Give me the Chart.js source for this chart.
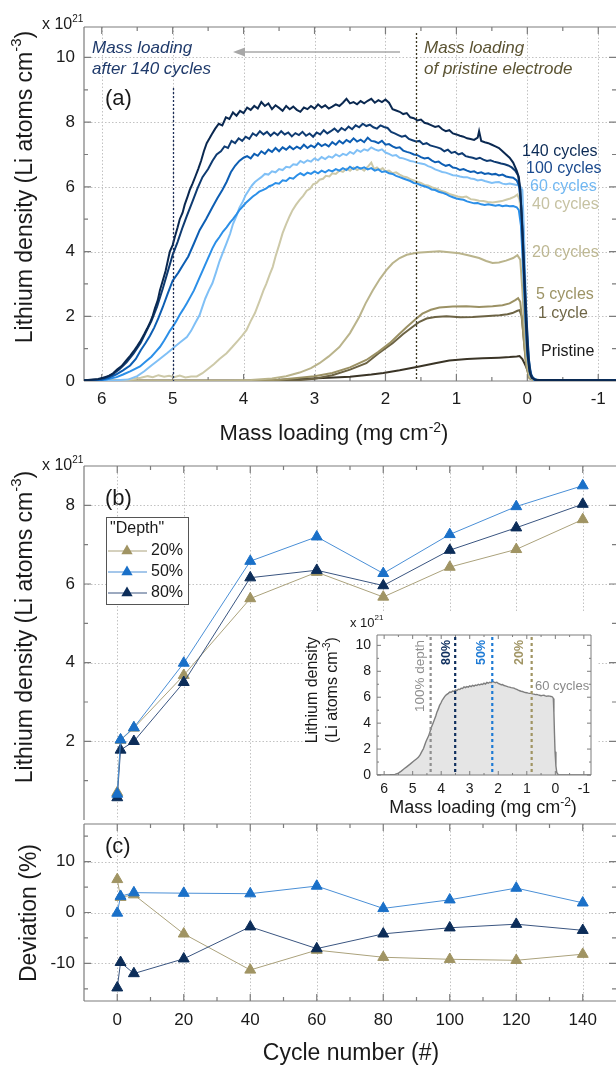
<!DOCTYPE html>
<html><head><meta charset="utf-8">
<script src="https://cdn.jsdelivr.net/npm/chart.js@4.4.1/dist/chart.umd.min.js"></script>
<style>
html,body{margin:0;padding:0;background:#fff;overflow:hidden;width:616px;height:1065px;position:relative}
canvas{position:absolute;left:0;top:0}
</style></head><body>
<canvas id="ca" width="616" height="1065"></canvas>
<canvas id="cb" width="616" height="1065"></canvas>
<canvas id="cc" width="616" height="1065"></canvas>
<canvas id="ci" width="616" height="1065"></canvas>
<script>
// ---------------- DATA ----------------
// Panel (a): lithium density profiles [mass loading (mg cm-2), density (x1e21 Li atoms cm-3)]
const c140 = [[6.25,0.02],[6.15,0.04],[6.05,0.06],[5.98,0.1],[5.9,0.16],[5.84,0.24],[5.78,0.36],[5.72,0.46],[5.66,0.62],[5.6,0.78],[5.55,0.92],[5.5,1.08],[5.45,1.25],[5.4,1.45],[5.36,1.62],[5.32,1.8],[5.28,2.02],[5.25,2.25],[5.21,2.5],[5.18,2.8],[5.14,3.1],[5.1,3.4],[5.07,3.7],[5.04,4.0],[5.0,4.2],[4.97,4.45],[4.93,4.75],[4.9,5.0],[4.86,5.2],[4.83,5.45],[4.79,5.7],[4.76,5.9],[4.72,6.1],[4.68,6.32],[4.64,6.55],[4.6,6.8],[4.56,7.1],[4.52,7.35],[4.48,7.5],[4.45,7.62],[4.4,7.8],[4.35,7.95],[4.3,7.9],[4.25,8.15],[4.2,8.1],[4.15,8.3],[4.1,8.2],[4.05,8.35],[4.0,8.28],[3.95,8.45],[3.9,8.38],[3.85,8.5],[3.8,8.42],[3.75,8.62],[3.7,8.5],[3.65,8.58],[3.6,8.4],[3.55,8.52],[3.5,8.44],[3.45,8.35],[3.4,8.5],[3.35,8.4],[3.3,8.48],[3.25,8.38],[3.2,8.32],[3.15,8.45],[3.1,8.4],[3.05,8.5],[3.0,8.42],[2.95,8.55],[2.9,8.45],[2.85,8.52],[2.8,8.42],[2.75,8.48],[2.7,8.55],[2.65,8.5],[2.6,8.6],[2.55,8.72],[2.5,8.58],[2.45,8.62],[2.4,8.55],[2.35,8.65],[2.3,8.58],[2.25,8.66],[2.2,8.72],[2.15,8.6],[2.1,8.68],[2.05,8.62],[2.0,8.7],[1.95,8.6],[1.9,8.4],[1.85,8.36],[1.8,8.32],[1.75,8.25],[1.7,8.28],[1.65,8.15],[1.6,8.12],[1.55,8.05],[1.5,8.08],[1.45,7.98],[1.4,7.95],[1.35,7.9],[1.3,7.85],[1.25,7.88],[1.2,7.78],[1.15,7.72],[1.1,7.75],[1.05,7.65],[1.0,7.62],[0.95,7.58],[0.9,7.55],[0.85,7.5],[0.8,7.48],[0.75,7.45],[0.7,7.52],[0.68,7.72],[0.65,7.42],[0.6,7.38],[0.55,7.35],[0.5,7.3],[0.45,7.25],[0.4,7.2],[0.35,7.1],[0.3,7.0],[0.25,6.9],[0.2,6.75],[0.15,6.5],[0.12,6.3],[0.1,5.9],[0.08,5.1],[0.06,4.0],[0.04,2.9],[0.02,1.8],[0.0,0.9],[-0.03,0.3],[-0.06,0.1],[-0.12,0.03],[-1.25,0.02]];
const c120 = [[6.25,0.02],[6.05,0.05],[5.95,0.1],[5.85,0.2],[5.75,0.36],[5.65,0.58],[5.55,0.85],[5.45,1.18],[5.38,1.5],[5.3,1.85],[5.22,2.3],[5.14,2.85],[5.06,3.45],[5.0,3.9],[4.93,4.3],[4.86,4.75],[4.8,5.1],[4.72,5.55],[4.65,5.95],[4.58,6.3],[4.5,6.55],[4.44,6.8],[4.38,7.0],[4.32,7.1],[4.27,7.25],[4.22,7.2],[4.17,7.42],[4.12,7.35],[4.07,7.5],[4.02,7.42],[3.97,7.55],[3.92,7.48],[3.87,7.65],[3.82,7.58],[3.77,7.72],[3.72,7.62],[3.67,7.7],[3.62,7.58],[3.57,7.68],[3.52,7.6],[3.47,7.72],[3.42,7.62],[3.37,7.68],[3.32,7.56],[3.27,7.66],[3.22,7.6],[3.17,7.7],[3.12,7.58],[3.07,7.65],[3.02,7.55],[2.97,7.68],[2.92,7.62],[2.87,7.75],[2.82,7.65],[2.77,7.72],[2.72,7.8],[2.67,7.7],[2.62,7.82],[2.57,7.75],[2.52,7.86],[2.47,7.78],[2.42,7.9],[2.37,7.84],[2.32,7.95],[2.27,7.88],[2.22,7.92],[2.17,7.84],[2.12,7.8],[2.07,7.9],[2.02,7.85],[1.97,7.82],[1.92,7.7],[1.87,7.65],[1.82,7.6],[1.77,7.55],[1.72,7.58],[1.67,7.48],[1.62,7.44],[1.57,7.4],[1.52,7.42],[1.47,7.32],[1.42,7.35],[1.37,7.28],[1.32,7.25],[1.27,7.22],[1.22,7.18],[1.17,7.1],[1.12,7.15],[1.07,7.05],[1.02,7.08],[0.97,7.0],[0.92,7.04],[0.87,6.95],[0.82,6.92],[0.77,6.9],[0.72,6.86],[0.67,6.9],[0.62,6.84],[0.57,6.8],[0.52,6.82],[0.47,6.78],[0.42,6.75],[0.37,6.72],[0.32,6.7],[0.27,6.66],[0.22,6.6],[0.17,6.5],[0.13,6.35],[0.1,5.9],[0.07,4.8],[0.04,3.3],[0.01,1.9],[-0.02,0.7],[-0.05,0.2],[-0.1,0.04],[-1.25,0.02]];
const c100 = [[6.25,0.01],[6.0,0.04],[5.9,0.1],[5.8,0.2],[5.7,0.33],[5.6,0.48],[5.52,0.68],[5.45,0.95],[5.38,1.18],[5.32,1.4],[5.26,1.65],[5.2,1.95],[5.14,2.28],[5.07,2.7],[5.0,3.1],[4.92,3.35],[4.85,3.6],[4.78,3.85],[4.7,4.25],[4.62,4.66],[4.53,5.0],[4.44,5.37],[4.37,5.65],[4.3,5.9],[4.24,6.15],[4.18,6.45],[4.12,6.65],[4.06,6.8],[4.0,6.9],[3.95,6.95],[3.9,6.88],[3.85,7.02],[3.8,6.96],[3.75,7.1],[3.7,7.02],[3.65,7.15],[3.6,7.08],[3.55,7.2],[3.5,7.1],[3.45,7.22],[3.4,7.15],[3.35,7.25],[3.3,7.16],[3.25,7.24],[3.2,7.18],[3.15,7.3],[3.1,7.2],[3.05,7.28],[3.0,7.22],[2.95,7.35],[2.9,7.26],[2.85,7.32],[2.8,7.25],[2.75,7.38],[2.7,7.3],[2.65,7.42],[2.6,7.34],[2.55,7.45],[2.5,7.38],[2.45,7.5],[2.4,7.4],[2.35,7.46],[2.3,7.38],[2.25,7.52],[2.2,7.42],[2.15,7.4],[2.1,7.35],[2.05,7.42],[2.0,7.3],[1.95,7.32],[1.9,7.25],[1.85,7.2],[1.8,7.22],[1.75,7.12],[1.7,7.08],[1.65,7.05],[1.6,7.0],[1.55,6.98],[1.5,6.92],[1.45,6.88],[1.4,6.9],[1.35,6.82],[1.3,6.76],[1.25,6.78],[1.2,6.7],[1.15,6.65],[1.1,6.68],[1.05,6.6],[1.0,6.58],[0.95,6.52],[0.9,6.55],[0.85,6.5],[0.8,6.46],[0.75,6.48],[0.7,6.42],[0.65,6.45],[0.6,6.4],[0.55,6.42],[0.5,6.38],[0.45,6.4],[0.4,6.35],[0.35,6.38],[0.3,6.32],[0.25,6.3],[0.2,6.28],[0.15,6.2],[0.12,6.05],[0.09,5.5],[0.06,4.2],[0.03,2.6],[0.0,1.2],[-0.03,0.4],[-0.07,0.1],[-0.15,0.02],[-1.25,0.02]];
const c80 = [[6.25,0.0],[5.95,0.04],[5.79,0.12],[5.7,0.2],[5.6,0.3],[5.46,0.45],[5.38,0.6],[5.3,0.75],[5.24,0.9],[5.18,1.05],[5.12,1.25],[5.08,1.4],[5.04,1.55],[5.0,1.67],[4.95,1.85],[4.9,2.05],[4.85,2.22],[4.8,2.4],[4.75,2.6],[4.7,2.8],[4.66,3.0],[4.62,3.2],[4.57,3.45],[4.53,3.65],[4.48,3.9],[4.44,4.1],[4.39,4.3],[4.34,4.45],[4.29,4.62],[4.24,4.75],[4.19,4.9],[4.15,5.0],[4.1,5.15],[4.06,5.28],[4.01,5.4],[3.97,5.5],[3.92,5.6],[3.87,5.7],[3.82,5.78],[3.78,5.85],[3.73,5.9],[3.68,5.95],[3.64,6.02],[3.6,6.05],[3.55,6.12],[3.5,6.1],[3.45,6.2],[3.4,6.18],[3.35,6.28],[3.3,6.25],[3.25,6.35],[3.2,6.42],[3.15,6.36],[3.1,6.44],[3.05,6.4],[3.0,6.48],[2.95,6.42],[2.9,6.5],[2.85,6.45],[2.8,6.52],[2.75,6.48],[2.7,6.55],[2.65,6.5],[2.6,6.58],[2.55,6.52],[2.5,6.62],[2.45,6.55],[2.4,6.62],[2.35,6.56],[2.3,6.6],[2.25,6.54],[2.2,6.58],[2.15,6.5],[2.1,6.54],[2.05,6.46],[2.0,6.48],[1.95,6.42],[1.9,6.4],[1.85,6.34],[1.8,6.3],[1.75,6.26],[1.7,6.22],[1.65,6.18],[1.6,6.12],[1.55,6.1],[1.5,6.05],[1.45,6.02],[1.4,5.98],[1.35,5.92],[1.3,5.9],[1.25,5.85],[1.2,5.82],[1.15,5.78],[1.1,5.72],[1.05,5.68],[1.0,5.64],[0.95,5.62],[0.9,5.6],[0.85,5.55],[0.8,5.52],[0.75,5.49],[0.7,5.5],[0.65,5.46],[0.6,5.44],[0.55,5.46],[0.5,5.44],[0.45,5.42],[0.4,5.44],[0.35,5.4],[0.3,5.42],[0.25,5.4],[0.2,5.41],[0.15,5.37],[0.12,5.28],[0.09,4.8],[0.06,3.5],[0.03,2.0],[0.0,0.8],[-0.04,0.2],[-0.1,0.03],[-1.25,0.01]];
const c60 = [[6.25,0.0],[5.8,0.02],[5.62,0.05],[5.5,0.15],[5.4,0.3],[5.3,0.48],[5.2,0.65],[5.08,0.86],[4.95,1.1],[4.88,1.22],[4.8,1.36],[4.74,1.55],[4.68,1.8],[4.62,2.04],[4.58,2.3],[4.54,2.55],[4.49,2.8],[4.44,3.02],[4.39,3.35],[4.34,3.7],[4.29,3.98],[4.24,4.26],[4.19,4.55],[4.15,4.85],[4.1,5.1],[4.06,5.35],[4.01,5.55],[3.97,5.75],[3.92,5.92],[3.88,6.05],[3.84,6.15],[3.8,6.22],[3.75,6.3],[3.7,6.4],[3.65,6.38],[3.6,6.48],[3.55,6.45],[3.5,6.55],[3.45,6.52],[3.4,6.62],[3.35,6.6],[3.3,6.7],[3.25,6.68],[3.2,6.8],[3.15,6.74],[3.1,6.82],[3.05,6.78],[3.0,6.88],[2.95,6.82],[2.9,6.92],[2.85,6.86],[2.8,6.94],[2.75,6.9],[2.7,7.0],[2.65,6.94],[2.6,7.02],[2.55,6.98],[2.5,7.08],[2.45,7.02],[2.4,7.14],[2.35,7.08],[2.3,7.16],[2.25,7.12],[2.2,7.22],[2.15,7.16],[2.1,7.12],[2.05,7.16],[2.0,7.06],[1.95,7.02],[1.9,6.96],[1.85,6.98],[1.8,6.9],[1.75,6.88],[1.7,6.84],[1.65,6.8],[1.6,6.78],[1.55,6.74],[1.5,6.72],[1.45,6.7],[1.4,6.64],[1.35,6.6],[1.3,6.54],[1.25,6.5],[1.2,6.46],[1.15,6.44],[1.1,6.4],[1.05,6.36],[1.0,6.35],[0.95,6.32],[0.9,6.3],[0.85,6.3],[0.8,6.26],[0.75,6.24],[0.7,6.2],[0.65,6.22],[0.6,6.18],[0.55,6.15],[0.5,6.12],[0.45,6.14],[0.4,6.15],[0.35,6.1],[0.3,6.08],[0.25,6.1],[0.2,6.08],[0.15,6.06],[0.1,6.02],[0.07,5.9],[0.05,4.8],[0.03,3.2],[0.01,1.8],[-0.02,0.7],[-0.05,0.2],[-0.1,0.03],[-1.25,0.01]];
const c40 = [[6.25,0.0],[5.7,0.02],[5.55,0.06],[5.45,0.1],[5.35,0.15],[5.28,0.12],[5.2,0.18],[5.12,0.13],[5.05,0.16],[4.98,0.12],[4.9,0.17],[4.82,0.11],[4.74,0.14],[4.66,0.14],[4.58,0.24],[4.5,0.38],[4.42,0.52],[4.34,0.68],[4.24,0.86],[4.16,1.05],[4.08,1.25],[4.02,1.4],[3.96,1.57],[3.9,1.85],[3.84,2.1],[3.77,2.5],[3.72,2.8],[3.68,3.0],[3.63,3.3],[3.59,3.52],[3.55,3.85],[3.5,4.2],[3.45,4.57],[3.4,4.85],[3.35,5.1],[3.31,5.28],[3.26,5.45],[3.21,5.6],[3.16,5.72],[3.11,5.88],[3.06,5.95],[3.02,6.08],[2.97,6.12],[2.93,6.22],[2.88,6.25],[2.84,6.34],[2.79,6.32],[2.75,6.42],[2.7,6.4],[2.65,6.5],[2.6,6.46],[2.55,6.56],[2.5,6.5],[2.45,6.6],[2.4,6.52],[2.35,6.58],[2.3,6.5],[2.25,6.62],[2.2,6.75],[2.16,6.55],[2.12,6.6],[2.08,6.52],[2.04,6.58],[2.0,6.48],[1.95,6.5],[1.9,6.42],[1.85,6.45],[1.8,6.38],[1.75,6.32],[1.7,6.3],[1.65,6.24],[1.6,6.2],[1.55,6.15],[1.5,6.12],[1.45,6.06],[1.4,6.04],[1.34,5.98],[1.28,5.94],[1.22,5.88],[1.16,5.84],[1.1,5.78],[1.04,5.74],[0.98,5.7],[0.92,5.68],[0.86,5.7],[0.8,5.62],[0.74,5.6],[0.68,5.57],[0.62,5.56],[0.56,5.53],[0.49,5.52],[0.42,5.54],[0.36,5.56],[0.3,5.6],[0.24,5.64],[0.18,5.7],[0.14,5.76],[0.11,5.6],[0.08,4.8],[0.05,3.2],[0.02,1.6],[-0.01,0.6],[-0.05,0.12],[-0.1,0.02],[-1.25,0.01]];
const c20 = [[6.25,0.01],[4.2,0.01],[3.9,0.03],[3.6,0.08],[3.4,0.15],[3.21,0.26],[3.05,0.4],[2.93,0.55],[2.8,0.76],[2.65,1.05],[2.5,1.48],[2.37,1.98],[2.28,2.4],[2.18,2.8],[2.08,3.15],[1.99,3.42],[1.9,3.64],[1.8,3.8],[1.7,3.9],[1.56,3.96],[1.4,3.99],[1.24,4.01],[1.1,3.98],[0.96,3.95],[0.82,3.88],[0.68,3.8],[0.58,3.71],[0.49,3.65],[0.4,3.66],[0.3,3.72],[0.2,3.8],[0.14,3.89],[0.1,3.75],[0.07,2.8],[0.04,1.6],[0.01,0.6],[-0.03,0.12],[-0.1,0.02],[-1.25,0.01]];
const c5 = [[6.25,0.01],[3.8,0.01],[3.5,0.04],[3.21,0.1],[3.0,0.15],[2.75,0.25],[2.5,0.42],[2.27,0.65],[2.1,0.9],[1.94,1.17],[1.82,1.42],[1.7,1.67],[1.58,1.9],[1.48,2.08],[1.36,2.2],[1.24,2.27],[1.05,2.3],[0.86,2.31],[0.68,2.29],[0.49,2.31],[0.35,2.34],[0.25,2.4],[0.17,2.5],[0.13,2.56],[0.1,2.45],[0.07,1.8],[0.04,1.0],[0.01,0.4],[-0.03,0.08],[-0.1,0.02],[-1.25,0.01]];
const c1 = [[6.25,0.01],[3.6,0.01],[3.2,0.03],[3.0,0.07],[2.75,0.18],[2.5,0.35],[2.27,0.55],[2.1,0.85],[1.9,1.17],[1.75,1.45],[1.62,1.67],[1.52,1.83],[1.42,1.93],[1.3,1.98],[1.14,2.0],[0.95,1.97],[0.77,1.98],[0.6,2.0],[0.39,2.03],[0.28,2.06],[0.21,2.1],[0.14,2.17],[0.11,2.19],[0.08,2.0],[0.05,1.3],[0.02,0.6],[-0.02,0.12],[-0.1,0.02],[-1.25,0.01]];
const cPristine = [[6.25,0.01],[4.0,0.01],[3.6,0.02],[3.21,0.06],[2.8,0.1],[2.5,0.13],[2.2,0.2],[2.03,0.25],[1.8,0.33],[1.56,0.43],[1.3,0.55],[1.1,0.63],[0.85,0.68],[0.63,0.7],[0.4,0.72],[0.25,0.74],[0.15,0.76],[0.11,0.77],[0.07,0.68],[0.03,0.5],[-0.01,0.3],[-0.05,0.14],[-0.1,0.05],[-0.2,0.02],[-1.25,0.01]];

// Panel (b) and (c)
const cycles = [0,1,5,20,40,60,80,100,120,140];
const depthNames = ['20%','50%','80%'];
const dens20 = [0.70,2.03,2.34,3.68,5.63,6.30,5.67,6.43,6.88,7.64];
const dens50 = [0.66,2.04,2.35,3.99,6.58,7.20,6.27,7.26,7.97,8.50];
const dens80 = [0.57,1.78,2.00,3.50,6.16,6.35,5.96,6.86,7.43,8.03];
const dev20 = [6.5,3.0,3.5,-4.2,-11.3,-7.4,-8.8,-9.2,-9.4,-8.2];
const dev50 = [-0.1,3.2,3.9,3.8,3.7,5.2,0.8,2.5,4.8,1.9];
const dev80 = [-14.8,-9.8,-12.0,-9.1,-2.8,-7.1,-4.2,-3.0,-2.3,-3.5];

// Ticks
const massTicks = [6,5,4,3,2,1,0,-1];
const massMinor = [5.5,4.5,3.5,2.5,1.5,0.5,-0.5];
const densTicksA = [0,2,4,6,8,10];
const densMinorA = [1,3,5,7,9];
const densGridA = [2,4,6,8,10];
const cycleTicks = [0,20,40,60,80,100,120,140];
const cycleMinor = [10,30,50,70,90,110,130];
const densTicksB = [2,4,6,8];
const densMinorB = [1,3,5,7];
const devTicks = [-10,0,10];
const devMinor = [-15,-5,5,15];

// Annotation values
const loading140 = 5.0, loadingPristine = 1.57;
const depthLines = [4.37, 3.51, 2.21, 0.83];
const depthLabels = ['100% depth','80%','50%','20%'];

// ---------------- HELPERS ----------------
const FONT = '"Liberation Sans", Arial, Helvetica, sans-serif';
const W = 616, H = 1065;
const pad = a => ({left:a.l, top:a.t, right:W-a.r, bottom:H-a.b});
const xy = arr => arr.map(p => ({x:p[0], y:p[1]}));
const cxy = vals => cycles.map((c,i) => ({x:c, y:vals[i]}));

function rich(ctx, parts, x, y, o) {
  const size = o.size, st = (o.style||'') + ' ' + (o.weight||'');
  const fonts = parts.map(p => `${st} ${p[1] ? Math.round(size*0.64) : size}px ${FONT}`);
  ctx.save();
  let w = 0;
  const ws = parts.map((p,i) => { ctx.font = fonts[i]; const m = ctx.measureText(p[0]).width; w += m; return m; });
  ctx.translate(x, y); if (o.rot) ctx.rotate(o.rot);
  let cx = o.align === 'center' ? -w/2 : (o.align === 'right' ? -w : 0);
  ctx.fillStyle = o.color || '#1a1a1a'; ctx.textBaseline = o.baseline || 'alphabetic'; ctx.textAlign = 'left';
  parts.forEach((p,i) => { ctx.font = fonts[i]; ctx.fillText(p[0], cx, p[1] ? -size*0.38 : 0); cx += ws[i]; });
  ctx.restore();
}
function drawGrid(chart, xv, yv) {
  const {ctx, chartArea:a} = chart, xs = chart.scales.x, ys = chart.scales.y;
  ctx.save(); ctx.strokeStyle = '#c2c2c2'; ctx.lineWidth = 1; ctx.setLineDash([1.5,2]);
  ctx.beginPath();
  xv.forEach(v => { const p = Math.round(xs.getPixelForValue(v)) + 0.5; ctx.moveTo(p, a.top); ctx.lineTo(p, a.bottom); });
  yv.forEach(v => { const p = Math.round(ys.getPixelForValue(v)) + 0.5; ctx.moveTo(a.left, p); ctx.lineTo(a.right, p); });
  ctx.stroke(); ctx.restore();
}
function drawFrame(chart, o) {
  const {ctx, chartArea:a} = chart, xs = chart.scales.x, ys = chart.scales.y;
  ctx.save(); ctx.strokeStyle = '#7c7c7c'; ctx.lineWidth = o.lw || 1.2; ctx.setLineDash([]);
  ctx.beginPath();
  const hx = (v,len) => { const p = xs.getPixelForValue(v);
    if (o.top) { ctx.moveTo(p, a.top); ctx.lineTo(p, a.top + len); }
    if (o.bottom) { ctx.moveTo(p, a.bottom); ctx.lineTo(p, a.bottom - len); } };
  const hy = (v,len) => { const p = ys.getPixelForValue(v);
    ctx.moveTo(a.left, p); ctx.lineTo(a.left + len, p);
    if (o.right) { ctx.moveTo(a.right, p); ctx.lineTo(a.right - len, p); } };
  o.xMaj.forEach(v => hx(v, o.maj)); o.xMin.forEach(v => hx(v, o.min));
  o.yMaj.forEach(v => hy(v, o.maj)); o.yMin.forEach(v => hy(v, o.min));
  if (o.top) { ctx.moveTo(a.left, a.top); ctx.lineTo(a.right, a.top); }
  if (o.bottom) { ctx.moveTo(a.left, a.bottom); ctx.lineTo(a.right, a.bottom); }
  ctx.moveTo(a.left, a.top); ctx.lineTo(a.left, a.bottom);
  if (o.rightLine) { ctx.moveTo(a.right, a.top); ctx.lineTo(a.right, a.bottom); }
  ctx.stroke(); ctx.restore();
}
function drawLabels(chart, o) {
  const {ctx, chartArea:a} = chart, xs = chart.scales.x, ys = chart.scales.y;
  ctx.save(); ctx.fillStyle = '#1a1a1a'; ctx.font = o.size + 'px ' + FONT; ctx.textBaseline = 'middle';
  if (o.xl) { ctx.textAlign = 'center'; o.xl.forEach(v => ctx.fillText(String(v), xs.getPixelForValue(v), a.bottom + o.xoff)); }
  if (o.yl) { ctx.textAlign = 'right'; o.yl.forEach(v => ctx.fillText(String(v), a.left - o.yoff, ys.getPixelForValue(v))); }
  ctx.restore();
}
function text(ctx, s, x, y, font, color, align, base) {
  ctx.save(); ctx.font = font; ctx.fillStyle = color; ctx.textAlign = align || 'left'; ctx.textBaseline = base || 'middle';
  ctx.fillText(s, x, y); ctx.restore();
}
function tri(ctx, x, y, r, color) {
  ctx.beginPath(); ctx.moveTo(x, y - r); ctx.lineTo(x + r*0.866, y + r/2); ctx.lineTo(x - r*0.866, y + r/2); ctx.closePath();
  ctx.fillStyle = color; ctx.fill();
}
function times1e21(ctx, x, y, size) {
  rich(ctx, [['x 10',0],['21',1]], x, y, {size:size, align:'left', baseline:'middle'});
}
function mk(id, area, xo, yo, datasets, plugin) {
  return new Chart(document.getElementById(id), {
    type: 'line',
    data: {datasets},
    options: {
      responsive: false, animation: false, devicePixelRatio: 1, events: [],
      layout: {padding: pad(area), autoPadding: false},
      scales: {
        x: Object.assign({type:'linear', display:false}, xo),
        y: Object.assign({type:'linear', display:false}, yo)
      },
      plugins: {legend:{display:false}, tooltip:{enabled:false}},
      elements: {line:{tension:0}, point:{radius:0}}
    },
    plugins: [plugin]
  });
}

// ---------------- PANEL A ----------------
const curveStyle = [
  ['140 cycles', c140, '#0a2850'],
  ['120 cycles', c120, '#0e3b72'],
  ['100 cycles', c100, '#0d5eb3'],
  ['80 cycles', c80, '#2b8fe8'],
  ['60 cycles', c60, '#80c0f6'],
  ['40 cycles', c40, '#cdc9a8'],
  ['20 cycles', c20, '#bab48c'],
  ['5 cycles', c5, '#9b9164'],
  ['1 cycle', c1, '#6c6344'],
  ['Pristine', cPristine, '#3a3426']
];
const curveLabels = [
  ['140 cycles', '#0b2a55', 522, 152],
  ['100 cycles', '#1a4a8e', 526, 169],
  ['60 cycles', '#72b8f2', 530, 187],
  ['40 cycles', '#c6c2a2', 532, 205],
  ['20 cycles', '#bdb792', 532, 253],
  ['5 cycles', '#9d9466', 536, 295],
  ['1 cycle', '#6f6646', 538, 314],
  ['Pristine', '#1a1a1a', 541, 352]
];
mk('ca', {l:84, t:27, r:616, b:381}, {min:-1.25, max:6.25, reverse:true}, {min:0, max:10.94},
  curveStyle.map(c => ({label:c[0], data:xy(c[1]), borderColor:c[2], borderWidth:2, pointRadius:0, fill:false})),
  {
    id:'decoA',
    beforeDatasetsDraw(chart) {
      drawGrid(chart, massTicks, densGridA);
      drawFrame(chart, {top:true, bottom:true, right:true, xMaj:massTicks, xMin:massMinor, yMaj:densTicksA, yMin:densMinorA, maj:7, min:4});
    },
    afterDatasetsDraw(chart) {
      const {ctx, chartArea:a} = chart, xs = chart.scales.x, ys = chart.scales.y;
      drawLabels(chart, {size:17, xl:massTicks, xoff:18, yl:densTicksA, yoff:9});
      ctx.save(); ctx.lineWidth = 1.3; ctx.setLineDash([2,2]);
      let p = Math.round(xs.getPixelForValue(loading140)) + 0.5;
      ctx.strokeStyle = '#1b2d58'; ctx.beginPath(); ctx.moveTo(p, 88); ctx.lineTo(p, a.bottom); ctx.stroke();
      p = Math.round(xs.getPixelForValue(loadingPristine)) + 0.5;
      ctx.strokeStyle = '#3a3520'; ctx.beginPath(); ctx.moveTo(p, 33); ctx.lineTo(p, a.bottom); ctx.stroke();
      ctx.setLineDash([]); ctx.strokeStyle = '#a8a8a8'; ctx.fillStyle = '#a8a8a8'; ctx.lineWidth = 1.6;
      ctx.beginPath(); ctx.moveTo(400, 52); ctx.lineTo(242, 52); ctx.stroke();
      ctx.beginPath(); ctx.moveTo(233, 52); ctx.lineTo(245, 47.5); ctx.lineTo(245, 56.5); ctx.closePath(); ctx.fill();
      ctx.restore();
      const itf = 'italic 17px ' + FONT;
      text(ctx, 'Mass loading', 92, 48, itf, '#1f3a6b');
      text(ctx, 'after 140 cycles', 92, 69, itf, '#1f3a6b');
      text(ctx, 'Mass loading', 424, 48, itf, '#5b5332');
      text(ctx, 'of pristine electrode', 424, 69, itf, '#5b5332');
      text(ctx, '(a)', 105, 99, '22px ' + FONT, '#1a1a1a');
      curveLabels.forEach(l => text(ctx, l[0], l[2], l[3], '16px ' + FONT, l[1]));
      times1e21(ctx, 42, 25, 16);
      rich(ctx, [['Lithium density (Li atoms cm',0],['-3',1],[')',0]], 26, 187, {size:23, rot:-Math.PI/2, align:'center', baseline:'middle'});
      rich(ctx, [['Mass loading (mg cm',0],['-2',1],[')',0]], 334, 440, {size:22, align:'center'});
    }
  });

// ---------------- PANEL B ----------------
const colB = {
  '20%': {pt:'#a09463', ln:'#aba27c'},
  '50%': {pt:'#1a70c8', ln:'#4a8fd6'},
  '80%': {pt:'#0c2d59', ln:'#3a5580'}
};
const ptDs = (name, vals) => ({label:name, data:cxy(vals), borderColor:colB[name].ln, borderWidth:1,
  pointStyle:'triangle', pointRadius:6.3, pointBackgroundColor:colB[name].pt, pointBorderColor:colB[name].pt, pointBorderWidth:1, fill:false});
mk('cb', {l:84, t:466, r:616, b:820}, {min:-10, max:150}, {min:0, max:9},
  [ptDs('50%', dens50), ptDs('80%', dens80), ptDs('20%', dens20)],
  {
    id:'decoB',
    beforeDatasetsDraw(chart) {
      drawGrid(chart, cycleTicks, densTicksB);
      drawFrame(chart, {top:true, bottom:false, right:true, xMaj:cycleTicks, xMin:cycleMinor, yMaj:densTicksB, yMin:densMinorB, maj:7, min:4});
    },
    afterDatasetsDraw(chart) {
      const ctx = chart.ctx;
      drawLabels(chart, {size:17, yl:densTicksB, yoff:9});
      text(ctx, '(b)', 105, 499, '22px ' + FONT, '#1a1a1a');
      times1e21(ctx, 42, 466, 16);
      rich(ctx, [['Lithium density (Li atoms cm',0],['-3',1],[')',0]], 26, 627, {size:23, rot:-Math.PI/2, align:'center', baseline:'middle'});
      ctx.save();
      ctx.fillStyle = '#fff'; ctx.fillRect(106, 517, 82, 87);
      ctx.strokeStyle = '#555'; ctx.lineWidth = 1; ctx.strokeRect(106.5, 517.5, 82, 87);
      ctx.restore();
      text(ctx, '"Depth"', 110, 529, '16px ' + FONT, '#1a1a1a');
      depthNames.forEach((n,i) => {
        const y = 551 + i*21;
        ctx.save(); ctx.strokeStyle = colB[n].ln; ctx.lineWidth = 1; ctx.beginPath(); ctx.moveTo(108, y); ctx.lineTo(147, y); ctx.stroke(); ctx.restore();
        tri(ctx, 127, y, 6.5, colB[n].pt);
        text(ctx, n, 151, y, '16px ' + FONT, '#1a1a1a');
      });
    }
  });

// ---------------- PANEL C ----------------
mk('cc', {l:84, t:824, r:616, b:1001}, {min:-10, max:150}, {min:-17.4, max:17.4},
  [ptDs('50%', dev50), ptDs('80%', dev80), ptDs('20%', dev20)],
  {
    id:'decoC',
    beforeDatasetsDraw(chart) {
      drawGrid(chart, cycleTicks, devTicks);
      drawFrame(chart, {top:true, bottom:true, right:true, xMaj:cycleTicks, xMin:cycleMinor, yMaj:devTicks, yMin:devMinor, maj:7, min:4});
    },
    afterDatasetsDraw(chart) {
      const ctx = chart.ctx;
      drawLabels(chart, {size:17, xl:cycleTicks, xoff:19, yl:devTicks, yoff:9});
      text(ctx, '(c)', 105, 847, '22px ' + FONT, '#1a1a1a');
      rich(ctx, [['Deviation (%)',0]], 30, 913, {size:23, rot:-Math.PI/2, align:'center', baseline:'middle'});
      rich(ctx, [['Cycle number (#)',0]], 351, 1060, {size:23, align:'center'});
    }
  });

// ---------------- INSET ----------------
const depthColors = ['#8f8f8f', '#0f2f5e', '#1e7ad4', '#a09463'];
const depthLabelX = [420, 447, 482, 520];
mk('ci', {l:377, t:635, r:591, b:775}, {min:-1.25, max:6.25, reverse:true}, {min:0, max:10.8},
  [{label:'60 cycles', data:xy(c60), borderColor:'#7e7e7e', borderWidth:1.4, pointRadius:0, fill:'origin', backgroundColor:'#e5e5e5'}],
  {
    id:'decoI',
    beforeDraw(chart) {
      const ctx = chart.ctx; ctx.save(); ctx.fillStyle = '#fff'; ctx.fillRect(304, 611, 293, 209); ctx.restore();
    },
    afterDatasetsDraw(chart) {
      const {ctx, chartArea:a} = chart, xs = chart.scales.x;
      ctx.save(); ctx.lineWidth = 2.2; ctx.setLineDash([3,3]);
      depthLines.forEach((v,i) => { const p = xs.getPixelForValue(v); ctx.strokeStyle = depthColors[i];
        ctx.beginPath(); ctx.moveTo(p, a.top + 2); ctx.lineTo(p, a.bottom); ctx.stroke(); });
      ctx.restore();
      drawFrame(chart, {top:true, bottom:true, right:true, rightLine:true, xMaj:massTicks, xMin:massMinor, yMaj:[0,2,4,6,8,10], yMin:[1,3,5,7,9], maj:4, min:2, lw:1});
      drawLabels(chart, {size:14, xl:massTicks, xoff:14, yl:[0,2,4,6,8,10], yoff:6});
      depthLabels.forEach((s,i) => {
        rich(ctx, [[s,0]], depthLabelX[i], 640, {size: i === 0 ? 13.5 : 12.5, weight: i === 0 ? '' : 'bold', rot:-Math.PI/2, align:'right', baseline:'middle', color: depthColors[i]});
      });
      text(ctx, '60 cycles', 535, 686, '13px ' + FONT, '#8a8a8a');
      rich(ctx, [['x 10',0],['21',1]], 350, 623, {size:13, align:'left', baseline:'middle'});
      rich(ctx, [['Lithium density',0]], 313, 690, {size:16, rot:-Math.PI/2, align:'center', baseline:'middle'});
      rich(ctx, [['(Li atoms cm',0],['-3',1],[')',0]], 333, 690, {size:16, rot:-Math.PI/2, align:'center', baseline:'middle'});
      rich(ctx, [['Mass loading (mg cm',0],['-2',1],[')',0]], 483, 813, {size:18, align:'center'});
    }
  });
</script>
</body></html>
